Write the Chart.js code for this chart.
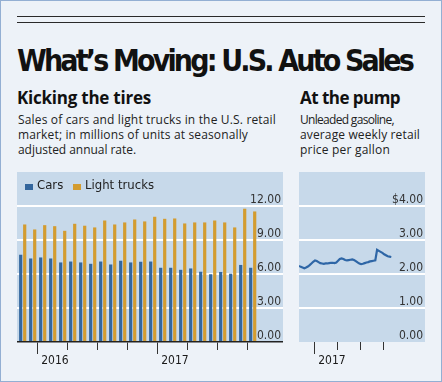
<!DOCTYPE html>
<html>
<head>
<meta charset="utf-8">
<script src="https://cdn.jsdelivr.net/npm/chart.js@4.4.1/dist/chart.umd.min.js"></script>
<style>
html,body{margin:0;padding:0;}
body{width:442px;height:382px;overflow:hidden;background:#edf2f8;position:relative;color:#1a1a1a;}
#frame{position:absolute;left:0;top:0;width:440px;height:380px;border:1px solid #93afd3;}
.rule{position:absolute;left:17px;width:408px;height:1px;background:#2a2a2a;}
.t{position:absolute;white-space:nowrap;}
#title{left:17px;top:45px;font:bold 30px/32px "Liberation Sans Narrow","DejaVu Sans Condensed",sans-serif;color:#111;}
.sub{top:88px;font:bold 17px/20px "Open Sans","Liberation Sans",sans-serif;color:#111;}
.body{font:12px/15px "Open Sans","Liberation Sans",sans-serif;color:#222;}
.legend{position:absolute;z-index:5;top:177px;left:25px;font:13px/16px "Liberation Sans Narrow","DejaVu Sans Condensed",sans-serif;color:#222;white-space:nowrap;}
.legend span.item{position:absolute;top:0;}
.legend i{position:absolute;width:8px;height:6px;top:7px;}
canvas{position:absolute;z-index:1;}
</style>
</head>
<body>
<div id="frame"></div>
<div class="rule" style="top:16px"></div>
<div class="rule" style="top:22px"></div>
<div class="t" id="title" data-w="395">What’s Moving: U.S. Auto Sales</div>
<div class="t sub" style="left:17px" data-w="134">Kicking the tires</div>
<div class="t body" style="left:18px;top:112px" data-w="258">Sales of cars and light trucks in the U.S. retail</div>
<div class="t body" style="left:18px;top:127px" data-w="230">market; in millions of units at seasonally</div>
<div class="t body" style="left:18px;top:142px" data-w="118">adjusted annual rate.</div>
<div class="t sub" style="left:300px" data-w="100">At the pump</div>
<div class="t body" style="left:300px;top:112px" data-w="94">Unleaded gasoline,</div>
<div class="t body" style="left:300px;top:127px" data-w="120">average weekly retail</div>
<div class="t body" style="left:300px;top:142px" data-w="90">price per gallon</div>
<div class="legend" id="legend"></div>
<canvas id="sales" width="266" height="200" style="left:17px;top:172px"></canvas>
<canvas id="gas" width="126" height="200" style="left:299px;top:172px"></canvas>
<script>
// ---------- data: monthly auto sales (millions, SAAR) ----------
const monthLabels = ['Nov 2015','Dec 2015','Jan 2016','Feb 2016','Mar 2016','Apr 2016','May 2016','Jun 2016','Jul 2016','Aug 2016','Sep 2016','Oct 2016','Nov 2016','Dec 2016','Jan 2017','Feb 2017','Mar 2017','Apr 2017','May 2017','Jun 2017','Jul 2017','Aug 2017','Sep 2017','Oct 2017'];
const carSales = [7.70,7.37,7.46,7.37,7.02,7.10,7.02,6.90,7.10,6.84,7.17,7.02,7.08,7.10,6.55,6.55,6.37,6.49,6.20,5.98,6.18,6.03,6.80,6.55];
const lightTruckSales = [10.37,9.93,10.31,10.22,9.81,10.43,10.26,10.11,10.72,10.37,10.55,10.81,10.64,11.05,10.87,10.90,10.46,10.55,10.55,10.72,10.55,10.11,11.76,11.52];
const seriesNames = ['Cars','Light trucks'];
const salesTicks = [0,3,6,9,12];

// ---------- data: weekly gasoline price ($/gal) ----------
const gasFirstWeek = '2016-10-31';
const gasPrices = [2.24,2.21,2.19,2.17,2.19,2.22,2.26,2.31,2.36,2.40,2.38,2.35,2.32,2.31,2.30,2.31,2.31,2.32,2.33,2.33,2.32,2.34,2.39,2.44,2.46,2.44,2.41,2.40,2.41,2.42,2.43,2.41,2.38,2.34,2.31,2.29,2.30,2.32,2.34,2.35,2.37,2.38,2.39,2.40,2.71,2.68,2.65,2.62,2.58,2.55,2.52,2.51,2.50];
const gasTicks = [0,1,2,3,4];
const gasQuarterStarts = ['2017-01-01','2017-04-01','2017-07-01','2017-10-01'];
const gasYearStarts = ['2017-01-01'];

// ---------- styles ----------
const COL_CARS = '#33669d';
const COL_TRUCKS = '#d39c30';
const COL_LINE = '#2e66a6';
const PANEL = '#c7d9ea';
const NARROW = '"Liberation Sans Narrow","DejaVu Sans Condensed",sans-serif';

// text fitting
document.querySelectorAll('[data-w]').forEach(el => {
  const target = +el.dataset.w;
  const w = el.getBoundingClientRect().width;
  const n = el.textContent.length;
  el.style.letterSpacing = ((target - w) / n).toFixed(3) + 'px';
});

// legend
const legend = document.getElementById('legend');
[[seriesNames[0], COL_CARS, 0],[seriesNames[1], COL_TRUCKS, 48]].forEach(([name,col,x]) => {
  const s = document.createElement('span');
  s.className = 'item';
  s.style.left = x + 'px';
  s.innerHTML = '<i style="left:0;background:' + col + '"></i><span style="margin-left:12px">' + name + '</span>';
  legend.appendChild(s);
});

const panelBg = {
  id: 'panelBg',
  beforeDraw(c) {
    const {ctx, chartArea: a} = c;
    ctx.save();
    ctx.fillStyle = PANEL;
    ctx.fillRect(a.left, a.top, a.right - a.left, a.bottom - a.top);
    ctx.restore();
  }
};

function fixedHeight(h) {
  return s => { s.height = h; s.paddingLeft = 0; s.paddingRight = 0; };
}
function noPad(s) { s.paddingTop = 0; s.paddingBottom = 0; s.paddingLeft = 0; s.paddingRight = 0; }

Chart.defaults.font.family = NARROW;
Chart.defaults.font.size = 12;
Chart.defaults.color = '#2a2a2a';

// ---------- sales chart ----------
const quarterIdx = monthLabels.map((m,i) => /^(Jan|Apr|Jul|Oct)/.test(m) ? i - 0.5 : null).filter(v => v !== null);
const yearIdx = monthLabels.map((m,i) => /^Jan/.test(m) ? i - 0.5 : null).filter(v => v !== null);
const yearOf = {};
monthLabels.forEach((m,i) => { if (/^Jan/.test(m)) yearOf[i - 0.5] = m.slice(4); });

const xMinS = -0.57, xMaxS = 26.03;

new Chart(document.getElementById('sales'), {
  type: 'bar',
  data: {
    datasets: [
      {label: seriesNames[0], data: carSales.map((v,i) => ({x:i, y:v})), backgroundColor: COL_CARS},
      {label: seriesNames[1], data: lightTruckSales.map((v,i) => ({x:i, y:v})), backgroundColor: COL_TRUCKS}
    ]
  },
  options: {
    responsive: false, animation: false, devicePixelRatio: 1,
    layout: {padding: 0},
    plugins: {legend: {display: false}, tooltip: {enabled: false}},
    datasets: {bar: {categoryPercentage: 0.8, barPercentage: 0.8, borderWidth: 0}},
    scales: {
      x: {
        type: 'linear', min: xMinS, max: xMaxS, offset: false, weight: 0,
        afterBuildTicks: s => { s.ticks = quarterIdx.map(v => ({value: v})); },
        grid: {offset: false, drawOnChartArea: false, tickLength: 8, tickColor: '#333', lineWidth: 1},
        border: {display: true, color: '#222', width: 1.5},
        ticks: {display: false},
        afterFit: fixedHeight(8)
      },
      x2: {
        type: 'linear', position: 'bottom', min: xMinS, max: xMaxS, offset: false, weight: 1,
        afterBuildTicks: s => { s.ticks = yearIdx.map(v => ({value: v})); },
        grid: {offset: false, drawOnChartArea: false, tickLength: 4, tickColor: '#333', lineWidth: 1},
        border: {display: false},
        ticks: {autoSkip: false, maxRotation: 0, align: 'start', labelOffset: 3.5, padding: 0,
                callback: v => yearOf[v] || '', color: '#1a1a1a'},
        afterFit: fixedHeight(22)
      },
      y: {
        position: 'right', min: 0, max: 15,
        afterBuildTicks: s => { s.ticks = salesTicks.map(v => ({value: v})); },
        grid: {color: c => c.tick && c.tick.value === 0 ? 'rgba(0,0,0,0)' : '#ffffff', lineWidth: 2, drawTicks: false},
        border: {display: false},
        ticks: {mirror: true, padding: -2, labelOffset: -6, callback: v => v.toFixed(2), color: '#333'},
        afterFit: noPad
      }
    }
  },
  plugins: [panelBg]
});

// ---------- gas chart ----------
const dayNum = s => Date.parse(s + 'T00:00:00Z') / 864e5;
const g0 = dayNum(gasFirstWeek);
const gasData = gasPrices.map((v,i) => ({x: g0 + 7*i, y: v}));
const qDays = gasQuarterStarts.map(dayNum);
const yDays = gasYearStarts.map(dayNum);
const xMinG = g0, xMaxG = g0 + 497;

new Chart(document.getElementById('gas'), {
  type: 'line',
  data: {datasets: [{label: 'Gasoline', data: gasData, borderColor: COL_LINE, borderWidth: 2.2, pointRadius: 0, tension: 0, fill: false}]},
  options: {
    responsive: false, animation: false, devicePixelRatio: 1,
    layout: {padding: 0},
    plugins: {legend: {display: false}, tooltip: {enabled: false}},
    scales: {
      x: {
        type: 'linear', min: xMinG, max: xMaxG, weight: 0,
        afterBuildTicks: s => { s.ticks = qDays.map(v => ({value: v})); },
        grid: {drawOnChartArea: false, tickLength: 8, tickColor: '#333', lineWidth: 1},
        border: {display: false},
        ticks: {display: false},
        afterFit: fixedHeight(8)
      },
      x2: {
        type: 'linear', position: 'bottom', min: xMinG, max: xMaxG, weight: 1,
        afterBuildTicks: s => { s.ticks = yDays.map(v => ({value: v})); },
        grid: {drawOnChartArea: false, tickLength: 4, tickColor: '#333', lineWidth: 1},
        border: {display: false},
        ticks: {autoSkip: false, maxRotation: 0, align: 'start', labelOffset: 3.5, padding: 0,
                callback: v => gasYearStarts[yDays.indexOf(v)].slice(0,4), color: '#1a1a1a'},
        afterFit: fixedHeight(22)
      },
      y: {
        position: 'right', min: 0, max: 5,
        afterBuildTicks: s => { s.ticks = gasTicks.map(v => ({value: v})); },
        grid: {color: c => c.tick && c.tick.value === 0 ? 'rgba(0,0,0,0)' : '#ffffff', lineWidth: 2, drawTicks: false},
        border: {display: false},
        ticks: {mirror: true, padding: -2, labelOffset: -6, callback: v => (v === 4 ? '$' : '') + v.toFixed(2), color: '#333'},
        afterFit: noPad
      }
    }
  },
  plugins: [panelBg]
});
</script>
</body>
</html>
